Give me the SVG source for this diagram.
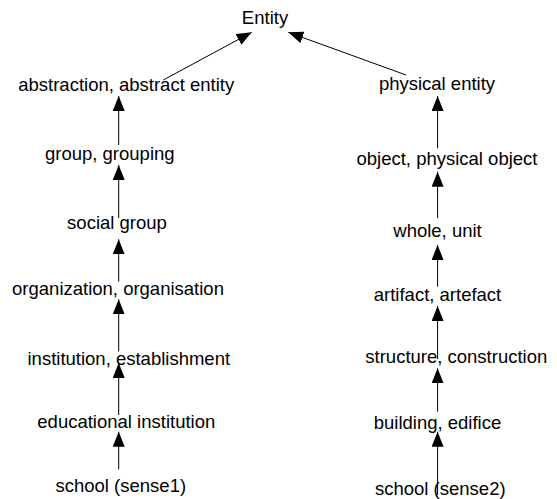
<svg xmlns="http://www.w3.org/2000/svg" width="557" height="499" viewBox="0 0 557 499">
<defs>
<style>
text{font-family:"Liberation Sans",Arial,sans-serif;font-size:18.5px;fill:#000;text-anchor:middle}
.c line{stroke:#000;stroke-width:1;marker-end:url(#ah)}
</style>
<marker id="ah" markerUnits="userSpaceOnUse" markerWidth="16" markerHeight="12" refX="15" refY="6" orient="auto" viewBox="0 0 16 12">
<path d="M0,0 L15,6 L0,12 z" fill="#000"/>
</marker>
</defs>
<rect width="557" height="499" fill="#fff"/>
<g id="connectors" class="c">
<line x1="163.3" y1="80" x2="251.7" y2="32.3"/>
<line x1="118.7" y1="145" x2="118.7" y2="96"/>
<line x1="118.7" y1="218" x2="118.7" y2="165"/>
<line x1="118.7" y1="281.7" x2="118.7" y2="239.3"/>
<line x1="118.7" y1="351.5" x2="118.7" y2="299.3"/>
<line x1="118.7" y1="415" x2="118.7" y2="363"/>
<line x1="118.7" y1="469.3" x2="118.7" y2="431.7"/>
<line x1="406" y1="75" x2="288.3" y2="32.3"/>
<line x1="437.6" y1="148.3" x2="437.6" y2="96"/>
<line x1="437.6" y1="218.3" x2="437.6" y2="171.7"/>
<line x1="437.6" y1="286.7" x2="437.6" y2="245"/>
<line x1="437.6" y1="359" x2="437.6" y2="306"/>
<line x1="437.6" y1="411.7" x2="437.6" y2="368.3"/>
<line x1="437.6" y1="495" x2="437.6" y2="431.7"/>
</g>
<g id="entity"><text x="265" y="24">Entity</text></g>
<g id="abstraction"><text x="126.2" y="90.7">abstraction, abstract entity</text></g>
<g id="group"><text x="109.8" y="160">group, grouping</text></g>
<g id="social-group"><text x="117" y="228.5">social group</text></g>
<g id="organization"><text x="118" y="295">organization, organisation</text></g>
<g id="institution"><text x="128.8" y="365">institution, establishment</text></g>
<g id="educational-institution"><text x="126.3" y="428">educational institution</text></g>
<g id="school1"><text x="120.8" y="491.7">school (sense1)</text></g>
<g id="physical-entity"><text x="437" y="90">physical entity</text></g>
<g id="object"><text x="447" y="165">object, physical object</text></g>
<g id="whole"><text x="437.5" y="236.7">whole, unit</text></g>
<g id="artifact"><text x="437.5" y="300.7">artifact, artefact</text></g>
<g id="structure"><text x="456.3" y="363.3">structure, construction</text></g>
<g id="building"><text x="437.5" y="429.3">building, edifice</text></g>
<g id="school2"><text x="440.3" y="495">school (sense2)</text></g>
</svg>
